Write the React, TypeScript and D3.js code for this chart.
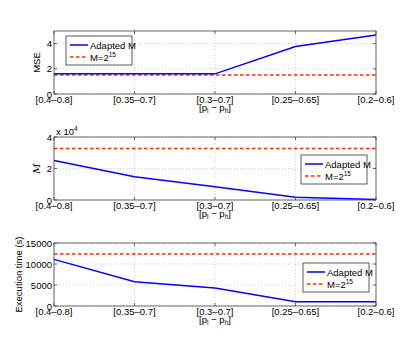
import { scalePoint, scaleLinear, line } from 'd3'

const categories = ['[0.4–0.8]', '[0.35–0.7]', '[0.3–0.7]', '[0.25–0.65]', '[0.2–0.6]']

const mseAdapted = [1.6, 1.6, 1.6, 3.77, 4.68]
const mseFixed = [1.5, 1.5, 1.5, 1.5, 1.5]
const mseTicks = [0, 2, 4]

const mAdapted = [25100, 14700, 8400, 1700, 300]
const mFixed = [32768, 32768, 32768, 32768, 32768]
const mTicks = [0, 20000, 40000]

const timeAdapted = [11100, 5800, 4300, 1000, 1000]
const timeFixed = [12400, 12400, 12400, 12400, 12400]
const timeTicks = [0, 5000, 10000, 15000]

const FONT = 'Liberation Sans, Arial, sans-serif'
const BLUE = '#0000ff'
const RED = '#ff2a00'
const LEFT = 54
const RIGHT = 376
const H = 63

const Legend = ({ x, y }) => (
  <g transform={`translate(${x},${y})`}>
    <rect width={66} height={29} fill="white" stroke="#333" strokeWidth={0.8} />
    <line x1={4} x2={22} y1={9} y2={9} stroke={BLUE} strokeWidth={1.5} />
    <text x={24} y={12.5} fontSize={9.5} fontFamily={FONT}>Adapted M</text>
    <line x1={4} x2={22} y1={21} y2={21} stroke={RED} strokeWidth={1.5} strokeDasharray="3.5,2.5" />
    <text x={24} y={24.5} fontSize={9.5} fontFamily={FONT}>
      M=2<tspan fontSize={6.5} dy={-4}>15</tspan>
    </text>
  </g>
)

const Panel = ({ top, adapted, fixed, ticks, maxY, tickFmt, legend, ylabel, exp }) => {
  const x = scalePoint().domain(categories).range([LEFT, RIGHT])
  const y = scaleLinear().domain([0, maxY]).range([top + H, top])
  const path = line().x((d, i) => x(categories[i])).y(d => y(d))
  const bottom = top + H
  return (
    <g>
      {categories.map(c => (
        <line key={c} x1={x(c)} x2={x(c)} y1={top} y2={bottom} stroke="#bbb" strokeWidth={0.7} strokeDasharray="1,2" />
      ))}
      {ticks.map(t => (
        <line key={t} x1={LEFT} x2={RIGHT} y1={y(t)} y2={y(t)} stroke="#bbb" strokeWidth={0.7} strokeDasharray="1,2" />
      ))}
      <path d={path(fixed)} fill="none" stroke={RED} strokeWidth={1.5} strokeDasharray="3.5,2.5" />
      <path d={path(adapted)} fill="none" stroke={BLUE} strokeWidth={1.5} />
      <rect x={LEFT} y={top} width={RIGHT - LEFT} height={H} fill="none" stroke="#444" strokeWidth={0.8} />
      {categories.map(c => (
        <g key={c}>
          <line x1={x(c)} x2={x(c)} y1={bottom} y2={bottom - 3} stroke="#444" strokeWidth={0.8} />
          <line x1={x(c)} x2={x(c)} y1={top} y2={top + 3} stroke="#444" strokeWidth={0.8} />
          <text x={x(c)} y={bottom + 9} textAnchor="middle" fontSize={9.5} fontFamily={FONT}>{c}</text>
        </g>
      ))}
      {ticks.map(t => (
        <g key={t}>
          <line x1={LEFT} x2={LEFT + 3} y1={y(t)} y2={y(t)} stroke="#444" strokeWidth={0.8} />
          <line x1={RIGHT} x2={RIGHT - 3} y1={y(t)} y2={y(t)} stroke="#444" strokeWidth={0.8} />
          <text x={LEFT - 2} y={y(t) + 3.5} textAnchor="end" fontSize={9.5} fontFamily={FONT}>{tickFmt(t)}</text>
        </g>
      ))}
      <text x={x(categories[2])} y={bottom + 17} textAnchor="middle" fontSize={9.5} fontFamily={FONT}>
        [p<tspan fontSize={6.5} dy={2}>l</tspan><tspan dy={-2}> − p</tspan><tspan fontSize={6.5} dy={2}>h</tspan><tspan dy={-2}>]</tspan>
      </text>
      {exp && (
        <text x={LEFT + 2} y={top - 2} fontSize={9.5} fontFamily={FONT}>
          x 10<tspan fontSize={6.5} dy={-4}>{exp}</tspan>
        </text>
      )}
      {ylabel}
      <Legend x={legend[0]} y={legend[1]} />
    </g>
  )
}

export default function App() {
  return (
    <svg width={415} height={354} style={{ position: 'absolute', left: 0, top: 0, background: 'white' }}>
      <rect width={415} height={354} fill="white" />
      <Panel
        top={31} adapted={mseAdapted} fixed={mseFixed} ticks={mseTicks} maxY={5}
        tickFmt={t => String(t)} legend={[66, 36]}
        ylabel={<text transform="translate(40,62.5) rotate(-90)" textAnchor="middle" fontSize={9.5} fontFamily={FONT}>MSE</text>}
      />
      <Panel
        top={137} adapted={mAdapted} fixed={mFixed} ticks={mTicks} maxY={40000}
        tickFmt={t => String(t / 10000)} legend={[301, 155]} exp="4"
        ylabel={<text transform="translate(40,168.5) rotate(-90)" textAnchor="middle" fontSize={10} fontStyle="italic" fontFamily="DejaVu Serif, serif">M</text>}
      />
      <Panel
        top={243} adapted={timeAdapted} fixed={timeFixed} ticks={timeTicks} maxY={15000}
        tickFmt={t => String(t)} legend={[303, 263]}
        ylabel={<text transform="translate(22,274.5) rotate(-90)" textAnchor="middle" fontSize={9.5} fontFamily={FONT}>Execution time (s)</text>}
      />
    </svg>
  )
}
